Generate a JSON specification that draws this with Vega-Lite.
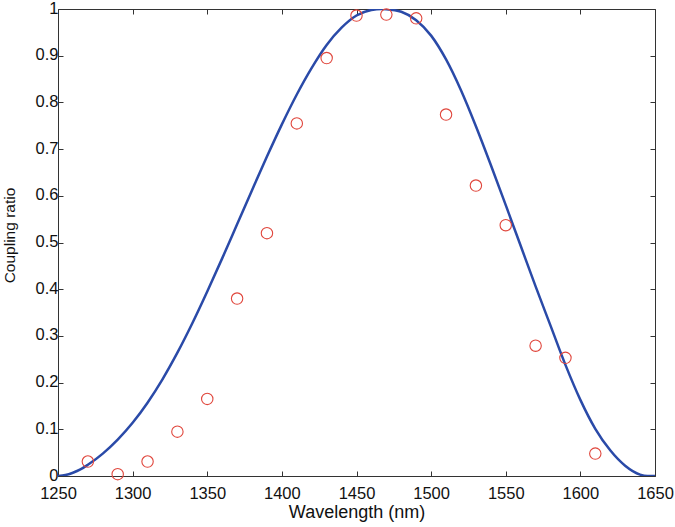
{
  "$schema": "https://vega.github.io/schema/vega-lite/v6.json",
  "width": 597,
  "height": 467,
  "autosize": {"type": "none"},
  "padding": {"left": 58, "top": 9, "right": 20, "bottom": 51},
  "background": "white",
  "config": {
    "view": {"stroke": "#333333", "strokeWidth": 1},
    "axis": {
      "grid": false,
      "domain": false,
      "tickColor": "#333333",
      "tickSize": -5,
      "tickWidth": 1,
      "labelFlush": false,
      "labelFont": "Liberation Sans",
      "labelFontSize": 16.5,
      "labelColor": "#111111",
      "titleFont": "Liberation Sans",
      "titleFontSize": 18,
      "titleFontWeight": "normal",
      "titleColor": "#111111"
    }
  },
  "datasets": {
    "curve": [
      {"wavelength": 1250, "ratio": 0.000}, {"wavelength": 1255, "ratio": 0.002},
      {"wavelength": 1260, "ratio": 0.007}, {"wavelength": 1265, "ratio": 0.014},
      {"wavelength": 1270, "ratio": 0.024}, {"wavelength": 1280, "ratio": 0.048},
      {"wavelength": 1290, "ratio": 0.078}, {"wavelength": 1300, "ratio": 0.114},
      {"wavelength": 1310, "ratio": 0.157}, {"wavelength": 1320, "ratio": 0.207},
      {"wavelength": 1330, "ratio": 0.264}, {"wavelength": 1340, "ratio": 0.327},
      {"wavelength": 1350, "ratio": 0.395}, {"wavelength": 1360, "ratio": 0.466},
      {"wavelength": 1370, "ratio": 0.539}, {"wavelength": 1380, "ratio": 0.612},
      {"wavelength": 1390, "ratio": 0.684}, {"wavelength": 1400, "ratio": 0.753},
      {"wavelength": 1410, "ratio": 0.817}, {"wavelength": 1420, "ratio": 0.874},
      {"wavelength": 1430, "ratio": 0.923}, {"wavelength": 1440, "ratio": 0.960},
      {"wavelength": 1450, "ratio": 0.986}, {"wavelength": 1460, "ratio": 0.998},
      {"wavelength": 1467, "ratio": 1.000}, {"wavelength": 1470, "ratio": 0.9995},
      {"wavelength": 1480, "ratio": 0.994}, {"wavelength": 1490, "ratio": 0.976},
      {"wavelength": 1500, "ratio": 0.943}, {"wavelength": 1510, "ratio": 0.892},
      {"wavelength": 1520, "ratio": 0.826}, {"wavelength": 1530, "ratio": 0.749},
      {"wavelength": 1540, "ratio": 0.666}, {"wavelength": 1550, "ratio": 0.580},
      {"wavelength": 1560, "ratio": 0.493}, {"wavelength": 1570, "ratio": 0.406},
      {"wavelength": 1580, "ratio": 0.322}, {"wavelength": 1590, "ratio": 0.238},
      {"wavelength": 1600, "ratio": 0.163}, {"wavelength": 1610, "ratio": 0.101},
      {"wavelength": 1620, "ratio": 0.055}, {"wavelength": 1630, "ratio": 0.022},
      {"wavelength": 1640, "ratio": 0.003}, {"wavelength": 1645, "ratio": 0.000},
      {"wavelength": 1650, "ratio": 0.000}
    ],
    "measured": [
      {"wavelength": 1270, "ratio": 0.031},
      {"wavelength": 1290, "ratio": 0.004},
      {"wavelength": 1310, "ratio": 0.031},
      {"wavelength": 1330, "ratio": 0.095},
      {"wavelength": 1350, "ratio": 0.165},
      {"wavelength": 1370, "ratio": 0.380},
      {"wavelength": 1390, "ratio": 0.520},
      {"wavelength": 1410, "ratio": 0.755},
      {"wavelength": 1430, "ratio": 0.895},
      {"wavelength": 1450, "ratio": 0.986},
      {"wavelength": 1470, "ratio": 0.988},
      {"wavelength": 1490, "ratio": 0.980},
      {"wavelength": 1510, "ratio": 0.774},
      {"wavelength": 1530, "ratio": 0.622},
      {"wavelength": 1550, "ratio": 0.537},
      {"wavelength": 1570, "ratio": 0.279},
      {"wavelength": 1590, "ratio": 0.253},
      {"wavelength": 1610, "ratio": 0.048}
    ]
  },
  "layer": [
    {
      "data": {"name": "curve"},
      "mark": {"type": "line", "color": "#2a4aa8", "strokeWidth": 2.5, "interpolate": "monotone", "clip": true},
      "encoding": {
        "x": {
          "field": "wavelength", "type": "quantitative",
          "scale": {"domain": [1250, 1650], "nice": false, "zero": false},
          "axis": {
            "values": [1250, 1300, 1350, 1400, 1450, 1500, 1550, 1600, 1650],
            "format": "d",
            "title": "Wavelength (nm)",
            "labelPadding": 14,
            "titlePadding": 2
          }
        },
        "y": {
          "field": "ratio", "type": "quantitative",
          "scale": {"domain": [0, 1], "nice": false},
          "axis": {
            "values": [0, 0.1, 0.2, 0.3, 0.4, 0.5, 0.6, 0.7, 0.8, 0.9, 1],
            "format": "~g",
            "title": "Coupling ratio",
            "titleFontSize": 15.5,
            "titleY": 226,
            "labelPadding": 5,
            "labelOffset": -1,
            "titlePadding": 18
          }
        }
      }
    },
    {
      "data": {"name": "measured"},
      "mark": {"type": "point", "shape": "circle", "filled": false, "color": "#e0463c", "size": 130, "strokeWidth": 1.1, "opacity": 1},
      "encoding": {
        "x": {
          "field": "wavelength", "type": "quantitative",
          "axis": {
            "orient": "top",
            "values": [1250, 1300, 1350, 1400, 1450, 1500, 1550, 1600, 1650],
            "labels": false,
            "title": null
          }
        },
        "y": {
          "field": "ratio", "type": "quantitative",
          "axis": {
            "orient": "right",
            "values": [0, 0.1, 0.2, 0.3, 0.4, 0.5, 0.6, 0.7, 0.8, 0.9, 1],
            "labels": false,
            "title": null
          }
        }
      }
    }
  ],
  "resolve": {"axis": {"x": "independent", "y": "independent"}}
}
